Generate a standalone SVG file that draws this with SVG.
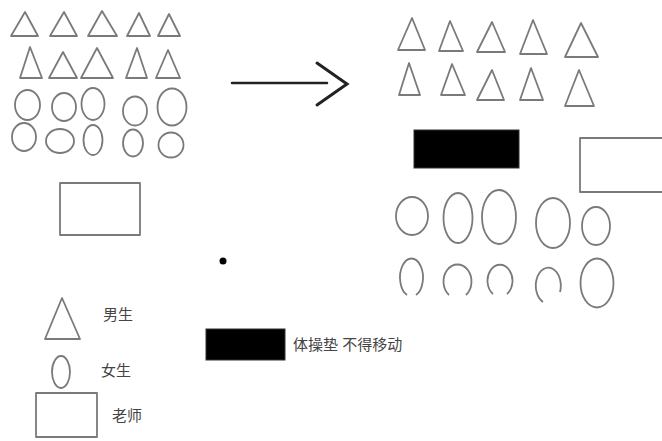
<svg xmlns="http://www.w3.org/2000/svg" width="662" height="441" viewBox="0 0 662 441">
<style>
.s{fill:none;stroke:#7a7a7a;stroke-width:1.8;stroke-linejoin:round}
.b{fill:#000;stroke:#333;stroke-width:1}
.t{font-family:"Liberation Sans","Noto Sans CJK SC",sans-serif;font-size:15px;fill:#444}
</style>
<rect width="662" height="441" fill="#fff"/>
<g id="before">
<g id="boys-before" class="s">
<polygon points="25,12 11,36 38,36"/>
<polygon points="64,12 50,36 77,36"/>
<polygon points="102,11 88,36 117,36"/>
<polygon points="139,13 127,36 150,36"/>
<polygon points="169,14 158,36 180,36"/>
<polygon points="30,47 20,78 42,78"/>
<polygon points="63,52 49,78 77,78"/>
<polygon points="97,48 81,78 113,78"/>
<polygon points="137,48 126,78 147,78"/>
<polygon points="168,50 156,78 180,78"/>
</g>
<g id="girls-before" class="s">
<ellipse cx="27.5" cy="105" rx="12.5" ry="15"/>
<ellipse cx="64" cy="107" rx="12" ry="14"/>
<ellipse cx="93" cy="104" rx="11.5" ry="16"/>
<ellipse cx="135" cy="111" rx="12" ry="14.5"/>
<ellipse cx="172" cy="107" rx="14.5" ry="18.5"/>
<ellipse cx="24" cy="137" rx="12" ry="14"/>
<ellipse cx="60" cy="141" rx="14" ry="12"/>
<ellipse cx="93" cy="140" rx="9.5" ry="15"/>
<ellipse cx="133" cy="143" rx="10" ry="13.5"/>
<ellipse cx="171" cy="145" rx="12.5" ry="12.5"/>
</g>
<g id="teacher-before"><rect class="s" x="60" y="183" width="80" height="52"/></g>
</g>
<g id="connectors">
<path d="M232,83 H327" fill="none" stroke="#222" stroke-width="2.5" stroke-linecap="round"/>
<path d="M317,63 L347,84 L317,105" fill="none" stroke="#222" stroke-width="3" stroke-linecap="round" stroke-linejoin="miter"/>
</g>
<g id="after">
<g id="boys-after" class="s">
<polygon points="412,18 398,50 425,50"/>
<polygon points="450,21 439,51 463,51"/>
<polygon points="492,22 477,52 505,52"/>
<polygon points="533,20 520,54 547,54"/>
<polygon points="581,23 565,57 598,57"/>
<polygon points="409,63 399,95 420,95"/>
<polygon points="452,64 441,95 465,95"/>
<polygon points="492,70 477,100 504,100"/>
<polygon points="531,68 520,100 543,100"/>
<polygon points="579,70 565,106 594,106"/>
</g>
<g id="mat-after"><rect class="b" x="414" y="130" width="105" height="38"/></g>
<g id="teacher-after"><rect class="s" x="580" y="138" width="90" height="54"/></g>
<g id="girls-after" class="s">
<ellipse cx="412" cy="216" rx="16" ry="19"/>
<ellipse cx="458" cy="218" rx="14.5" ry="25"/>
<ellipse cx="499" cy="217" rx="17" ry="27"/>
<ellipse cx="553" cy="223" rx="17" ry="25"/>
<ellipse cx="596" cy="226" rx="14" ry="19"/>
<path d="M407,295 A11.5,19 0 1 1 416,295"/>
<path d="M449,295 A14,17 0 1 1 466,295"/>
<path d="M493,294 A12.5,16 0 1 1 507,294"/>
<path d="M543,302 A12.5,18 0 1 1 560,292"/>
<ellipse cx="597" cy="283" rx="16.5" ry="24.5"/>
</g>
</g>
<circle cx="223" cy="261" r="3.5" fill="#000"/>
<g id="legend">
<g id="legend-boy"><polygon class="s" points="62,298 45,339 80,339"/><text class="t" x="103" y="320">男生</text></g>
<g id="legend-girl"><ellipse class="s" cx="61" cy="372" rx="9" ry="16"/><text class="t" x="101" y="376">女生</text></g>
<g id="legend-teacher"><rect class="s" x="36" y="393" width="61" height="44"/><text class="t" x="112" y="421">老师</text></g>
<g id="legend-mat"><rect class="b" x="206" y="329" width="79" height="31"/><text class="t" x="293" y="350">体操垫 不得移动</text></g>
</g>
</svg>
